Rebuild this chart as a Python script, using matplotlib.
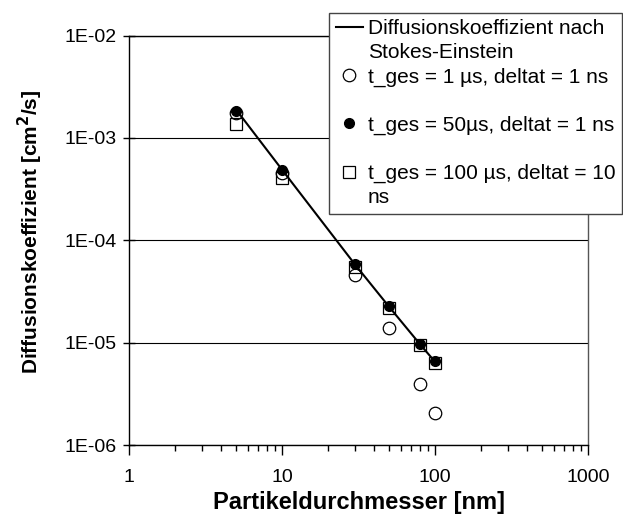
import numpy as np
import matplotlib
matplotlib.use("Agg")
import matplotlib.pyplot as plt
from matplotlib.lines import Line2D
from matplotlib.ticker import FuncFormatter, LogLocator, NullLocator

plt.rcParams['font.family'] = ['Liberation Sans', 'DejaVu Sans']

# Partikeldurchmesser [nm]
d_nm = [5, 10, 30, 50, 80, 100]

# Diffusionskoeffizient [cm^2/s]
D_stokes = [1.9e-3, 4.9e-4, 5.8e-5, 2.25e-5, 9.6e-6, 6.5e-6]
D_1us = [1.75e-3, 4.5e-4, 4.6e-5, 1.39e-5, 3.95e-6, 2.05e-6]
D_50us = [1.85e-3, 4.9e-4, 5.9e-5, 2.3e-5, 9.8e-6, 6.6e-6]
D_100us = [1.36e-3, 4.07e-4, 5.5e-5, 2.2e-5, 9.5e-6, 6.4e-6]

# Legendentexte (Zeilenumbruch wie im Original)
lbl_stokes = ["Diffusionskoeffizient nach", "Stokes-Einstein"]
lbl_1us = ["t_ges = 1 µs, deltat = 1 ns", " "]
lbl_50us = ["t_ges = 50µs, deltat = 1 ns", " "]
lbl_100us = ["t_ges = 100 µs, deltat = 10", "ns"]

fig = plt.figure(figsize=(6.23, 5.23), dpi=100)
ax = fig.add_axes([0.207, 0.149, 0.737, 0.783])

h_stokes, = ax.plot(d_nm, D_stokes, color='black', lw=1.5, zorder=3)
h_1us, = ax.plot(d_nm, D_1us, ls='none', marker='o', ms=9, mfc='white',
                 mec='black', mew=0.9, zorder=2)
h_50us, = ax.plot(d_nm, D_50us, ls='none', marker='o', ms=7, mfc='black',
                  mec='black', zorder=4)
h_100us, = ax.plot(d_nm, D_100us, ls='none', marker='s', ms=9, mfc='none',
                   mec='black', mew=0.9, zorder=2)

ax.set_xscale('log')
ax.set_yscale('log')
ax.set_xlim(1, 1000)
ax.set_ylim(1e-6, 1e-2)

ax.yaxis.set_major_locator(LogLocator(base=10, numticks=10))
ax.yaxis.set_minor_locator(NullLocator())
ax.yaxis.set_major_formatter(FuncFormatter(lambda v, p: f"{v:.0E}"))
ax.xaxis.set_major_formatter(FuncFormatter(lambda v, p: f"{v:g}"))

ax.grid(axis='y', which='major', color='black', lw=0.8)
ax.tick_params(axis='y', which='major', direction='inout', length=8, width=1,
               labelsize=14, pad=5)
ax.tick_params(axis='x', which='major', direction='out', length=7, width=1,
               labelsize=14, pad=10)
ax.tick_params(axis='x', which='minor', direction='out', length=4, width=1)
ax.tick_params(right=False, top=False)
for s in ax.spines.values():
    s.set_linewidth(1)
ax.spines['right'].set_color('#555555')

ax.set_xlabel("Partikeldurchmesser [nm]", fontsize=17, fontweight='bold', labelpad=4)
ax.set_ylabel("Diffusionskoeffizient [cm$^\\mathbf{2}$/s]", fontsize=15,
              fontweight='bold')
ax.yaxis.set_label_coords(-0.183, 0.52)

# Legende: eine Zeile pro Textzeile, Symbol nur in der ersten Zeile
leer = Line2D([], [], ls='none')
handles, labels = [], []
for h, lb in [(h_stokes, lbl_stokes), (h_1us, lbl_1us), (h_50us, lbl_50us),
              (h_100us, lbl_100us)]:
    handles += [h, leer]
    labels += lb

leg = fig.legend(handles, labels, loc='upper right', bbox_to_anchor=(0.999, 0.976),
                 fontsize=15, frameon=True, fancybox=False, framealpha=1,
                 edgecolor='#444444', handlelength=1.3, handletextpad=0.25,
                 labelspacing=0.24, borderpad=0.33, borderaxespad=0)
leg.get_frame().set_linewidth(1)

fig.savefig("out.png", dpi=100)
